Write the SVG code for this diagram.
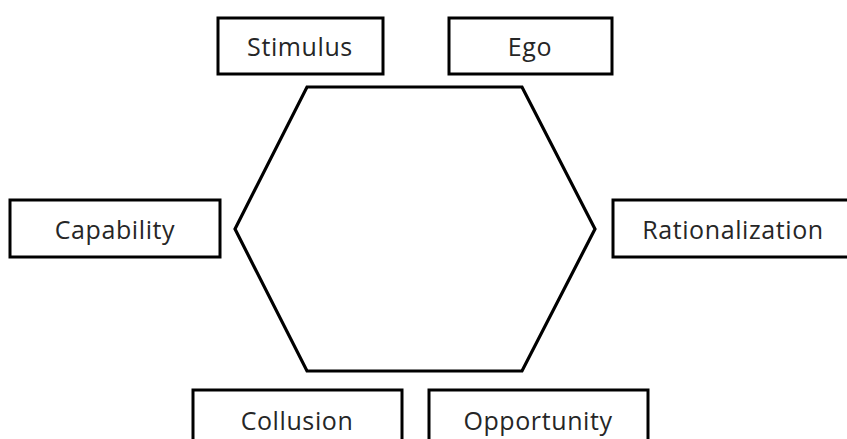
<svg xmlns="http://www.w3.org/2000/svg" width="847" height="439" viewBox="0 0 847 439">
<style>
.box{fill:#fff;stroke:#000;stroke-width:3}
.lbl{font-family:"Open Sans","Liberation Sans",sans-serif;font-size:25px;letter-spacing:0.6px;fill:#262626;text-anchor:middle}
.hex{fill:none;stroke:#000;stroke-width:3.2;stroke-linejoin:miter}
</style>
<rect width="847" height="439" fill="#fff"/>
<g id="hexagon"><polygon class="hex" points="307,87 522,87 595,229 522,371 307,371 235,229"/></g>
<g id="connectors"></g>
<g id="stimulus"><rect class="box" x="218" y="18" width="165" height="56"/><text class="lbl" x="300" y="56">Stimulus</text></g>
<g id="ego"><rect class="box" x="449" y="18" width="163" height="56"/><text class="lbl" x="530" y="56">Ego</text></g>
<g id="capability"><rect class="box" x="10" y="200" width="210" height="57"/><text class="lbl" x="115" y="239">Capability</text></g>
<g id="rationalization"><rect class="box" x="613" y="200" width="250" height="57"/><text class="lbl" x="733" y="239">Rationalization</text></g>
<g id="collusion"><rect class="box" x="193" y="390" width="209" height="70"/><text class="lbl" x="297" y="430">Collusion</text></g>
<g id="opportunity"><rect class="box" x="429" y="390" width="219" height="70"/><text class="lbl" x="538" y="430">Opportunity</text></g>
</svg>
